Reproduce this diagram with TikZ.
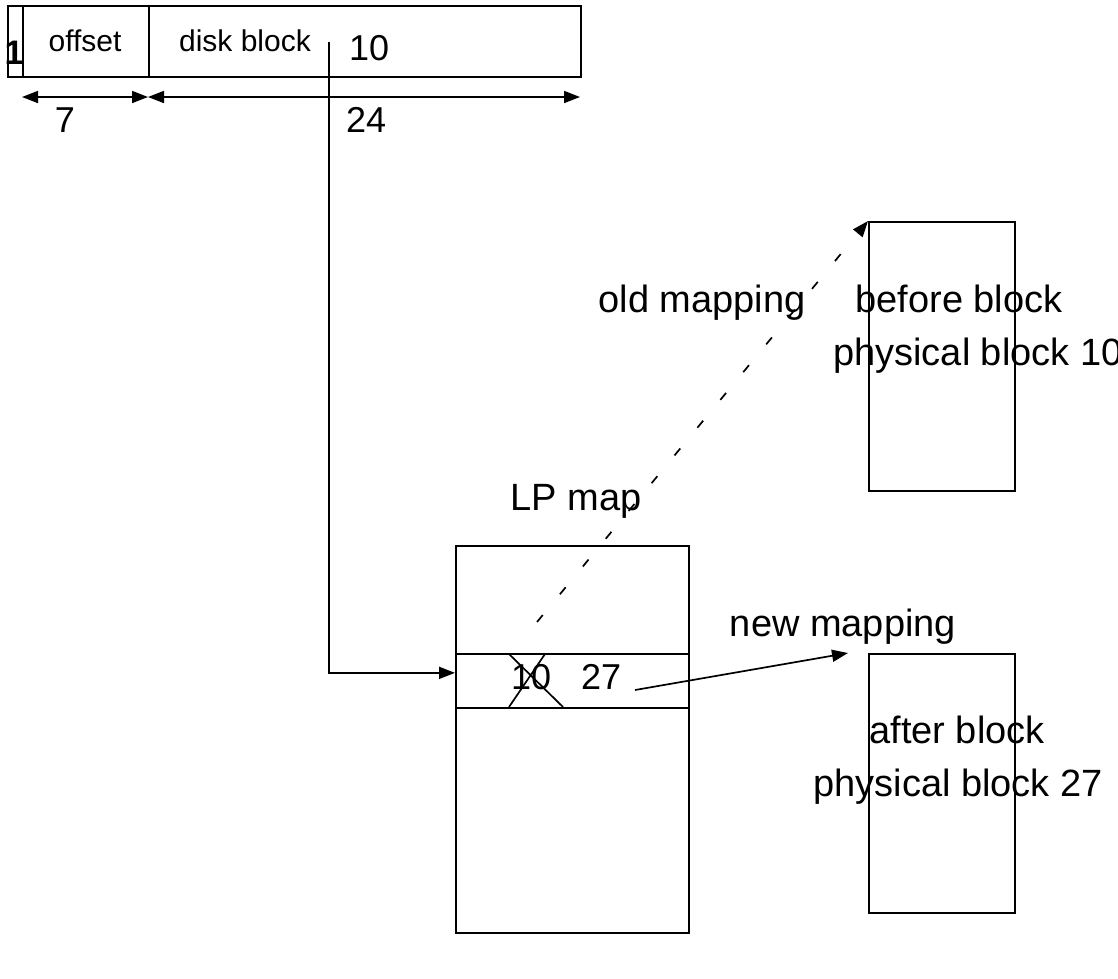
\documentclass[tikz,border=0pt]{standalone}
\usepackage{fontspec}
\setmainfont{Liberation Sans}
\usetikzlibrary{arrows.meta}
\begin{document}
\begin{tikzpicture}[x=1pt,y=-1pt,
  box/.style={draw, line width=1.7pt, inner sep=0pt, anchor=north west},
  lbl/.style={inner sep=0pt, anchor=base, font=\fontsize{38}{44}\selectfont},
  small/.style={inner sep=0pt, anchor=base, font=\fontsize{30}{36}\selectfont},
  num/.style={inner sep=0pt, anchor=base west, font=\fontsize{36}{42}\selectfont},
  conn/.style={line width=1.7pt},
  tip/.style={-{Triangle[length=16pt,width=12pt]}},
  dimarrow/.style={conn, {Triangle[length=16pt,width=12pt]}-{Triangle[length=16pt,width=12pt]}},
  oldmap/.style={conn, dash pattern=on 9pt off 27pt},
]
\useasboundingbox (0,0) rectangle (1118,978);

% address word: flag bit, offset field, disk block field
\node[box, minimum width=573pt, minimum height=71pt] (rec) at (7,5) {};
\node[box, minimum width=15pt, minimum height=71pt] (flag) at (7,5) {};
\node[box, minimum width=126pt, minimum height=71pt] (off) at (22,5) {};
\node[font=\bfseries\fontsize{34}{40}\selectfont, inner sep=0pt, anchor=base] (one) at (14,64) {1};
\node[small] (offtxt) at (85,51) {offset};
\node[small] (dbtxt) at (245,51) {disk block};
\node[num] (ten) at (349,60) {10};

% field widths
\coordinate (d0) at (22,97);
\coordinate (d1) at (148,97);
\coordinate (d2) at (580,97);
\draw[dimarrow] (d0) -- (d1);
\draw[dimarrow] (d1) -- (d2);
\node[num, anchor=base] (seven) at (65,132) {7};
\node[num] (tfour) at (346,132) {24};

% LP map table with the updated entry
\node[box, minimum width=233pt, minimum height=387pt] (lp) at (455,545) {};
\node[box, minimum width=233pt, minimum height=54pt] (row) at (455,653) {};
\node[lbl] (lptxt) at (576,510) {LP map};
\node[num] (oldv) at (511,689) {10};
\node[num] (newv) at (581,689) {27};
\coordinate (xa) at (509,654);
\coordinate (xb) at (563,707);
\coordinate (xc) at (509,707);
\coordinate (xd) at (545,654);
\draw[conn] (xa) -- (xb);
\draw[conn] (xc) -- (xd);

% physical blocks
\node[box, minimum width=146pt, minimum height=269pt] (bef) at (868,221) {};
\node[box, minimum width=146pt, minimum height=259pt] (aft) at (868,653) {};
\node[lbl] (beftxt) at (959,312) {before block};
\node[lbl, anchor=base west] (befphys) at (833,365) {physical block 10};
\node[lbl] (afttxt) at (957,743) {after block};
\node[lbl] (aftphys) at (958,796) {physical block 27};

% pointer from the disk block field into the LP map
\coordinate (ptr) at (329,42);
\draw[conn, tip] (ptr) |- ([yshift=8pt]row.west);

% old and new mappings
\coordinate (oldstart) at (537,622);
\draw[oldmap, tip] (oldstart) -- (bef.north west);
\node[lbl] (oldtxt) at (702,312) {old mapping};

\coordinate (newstart) at (635,690);
\draw[conn, tip] (newstart) -- ([xshift=-20pt]aft.north west);
\node[lbl] (newtxt) at (843,636) {new mapping};
\end{tikzpicture}
\end{document}
